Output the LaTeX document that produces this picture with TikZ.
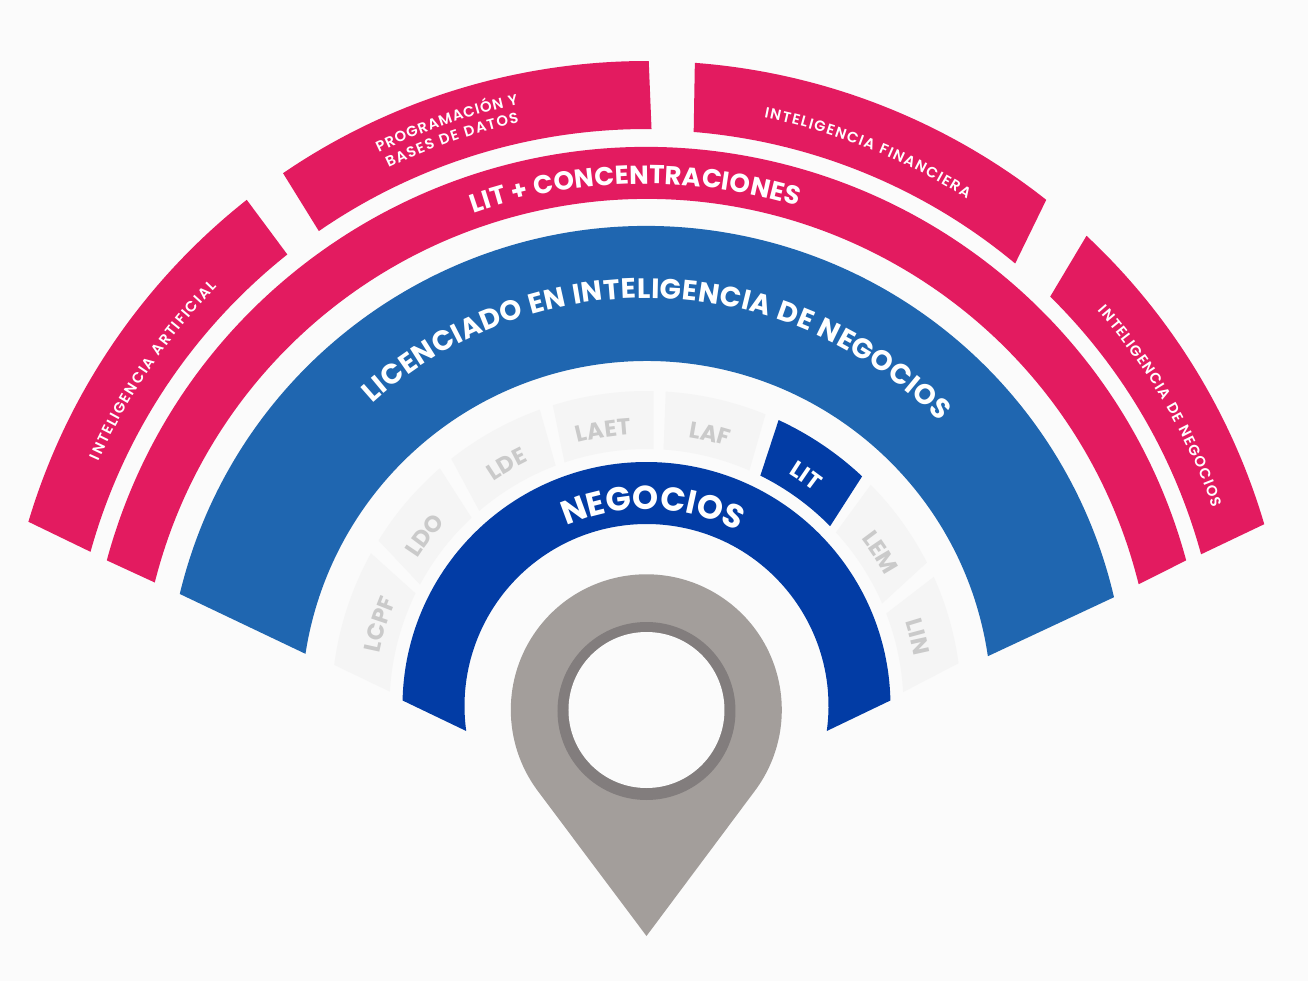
\documentclass[tikz,border=0pt]{standalone}
\usepackage{fontspec}
\setmainfont{Poppins}
\newfontfamily\semifam{Poppins SemiBold}
\usepackage{xcolor}
\usetikzlibrary{decorations.text}
\definecolor{pagegray}{HTML}{FBFBFB}
\definecolor{concpink}{HTML}{E31B60}
\definecolor{litblue}{HTML}{1F66B0}
\definecolor{negblue}{HTML}{023CA5}
\definecolor{cellgray}{HTML}{F5F5F5}
\definecolor{celltext}{HTML}{CACACA}
\definecolor{pingray}{HTML}{A39E9B}
\definecolor{pinring}{HTML}{827D7D}
% outer arc from #2 to #3 at radius #6, inner arc from #4 to #5 at radius #7
\newcommand{\ringpart}[7]{%
    \fill[#1] (#2:#6) arc[start angle=#2, end angle=#3, radius=#6]
        -- (#4:#7) arc[start angle=#4, end angle=#5, radius=#7] -- cycle;}
% text stretched over an arc: from, to, radius, size, font and colour, text
\newcommand{\fitarc}[6]{%
    \path[decorate, decoration={text along path, text align={fit to path},
        text={|\fontsize{#4}{#4}\selectfont#5|#6}}]
        (#1:#3) arc[start angle=#1, end angle=#2, radius=#3];}
% the same, centred on the arc
\newcommand{\midarc}[6]{%
    \path[decorate, decoration={text along path, text align=center,
        text={|\fontsize{#4}{#4}\selectfont#5|#6}}]
        (#1:#3) arc[start angle=#1, end angle=#2, radius=#3];}

\begin{document}
\begin{tikzpicture}[x=0.5pt, y=0.5pt]
    % Page
    \fill[pagegray] (-646.5,-275) rectangle (661.5,706);

    % Outer concentrations
    \ringpart{concpink}{163.4}{128.3}{128.5}{164.5}{645}{577}
    \ringpart{concpink}{124.3}{89.8}{89.5}{124.6}{645}{577}
    \ringpart{concpink}{85.7}{51.7}{50.2}{85.3}{645}{576}
    \ringpart{concpink}{46.9}{16.4}{15.3}{45.4}{644}{575}
    \fitarc{155.9}{135.7}{600}{7.4}{\semifam\color{white}}{INTELIGENCIA ARTIFICIAL}
    \fitarc{115.8}{102}{615}{7.4}{\semifam\color{white}}{PROGRAMACIÓN Y}
    \fitarc{115.6}{102.3}{597}{7.4}{\semifam\color{white}}{BASES DE DATOS}
    \fitarc{78.7}{57.7}{600}{7.4}{\semifam\color{white}}{INTELIGENCIA FINANCIERA}
    \fitarc{41.2}{19.3}{600}{7.4}{\semifam\color{white}}{INTELIGENCIA DE NEGOCIOS}

    % LIT + concentraciones
    \ringpart{concpink}{164.9}{15.1}{13.9}{165.9}{559}{507}
    \fitarc{109.3}{73.2}{522}{13}{\bfseries\color{white}}{LIT + CONCENTRACIONES}

    % Licenciado
    \ringpart{litblue}{166.5}{13.1}{8.3}{171.3}{480}{345}
    \fitarc{132.2}{44.2}{408}{14}{\bfseries\color{white}}{LICENCIADO EN INTELIGENCIA DE NEGOCIOS}

    % Program cells
    \foreach \oa/\ob/\ia/\ib in {
        172.5/151/154/176.8,
        148.3/131/132.9/151.8,
        128.3/109.8/110.7/130.6,
        107.3/88.7/88.4/108.6,
        86.5/67.8/66.4/86.2,
        44.6/27.1/23.5/42.5,
        24.2/7.8/3.1/21.1} {
        \ringpart{cellgray}{\oa}{\ob}{\ia}{\ib}{315}{257}
    }
    \ringpart{negblue}{65.2}{46.8}{44.4}{63.7}{315}{257}
    \foreach \mid/\name/\col in {
        163/LCPF/celltext, 142.4/LDO/celltext, 120/LDE/celltext,
        98.9/LAET/celltext, 76.9/LAF/celltext, 55.3/LIT/white,
        33.2/LEM/celltext, 14.3/LIN/celltext} {
        \pgfmathsetmacro{\from}{\mid+20}
        \pgfmathsetmacro{\to}{\mid-20}
        \midarc{\from}{\to}{272}{11.5}{\bfseries\color{\col}}{\name}
    }

    % Negocios
    \ringpart{negblue}{178.7}{1.3}{-7.9}{187.9}{244}{182}
    \fitarc{114}{62.4}{197}{16.6}{\bfseries\color{white}}{NEGOCIOS}

    % Pin
    \fill[pingray] (0,-230) -- (109,-84)
        arc[start angle=-36.3, end angle=216.3, radius=135.5] -- cycle;
    \fill[pinring] (0,-5) circle[radius=89];
    \fill[pagegray] (0,-4) circle[radius=78];
\end{tikzpicture}
\end{document}
